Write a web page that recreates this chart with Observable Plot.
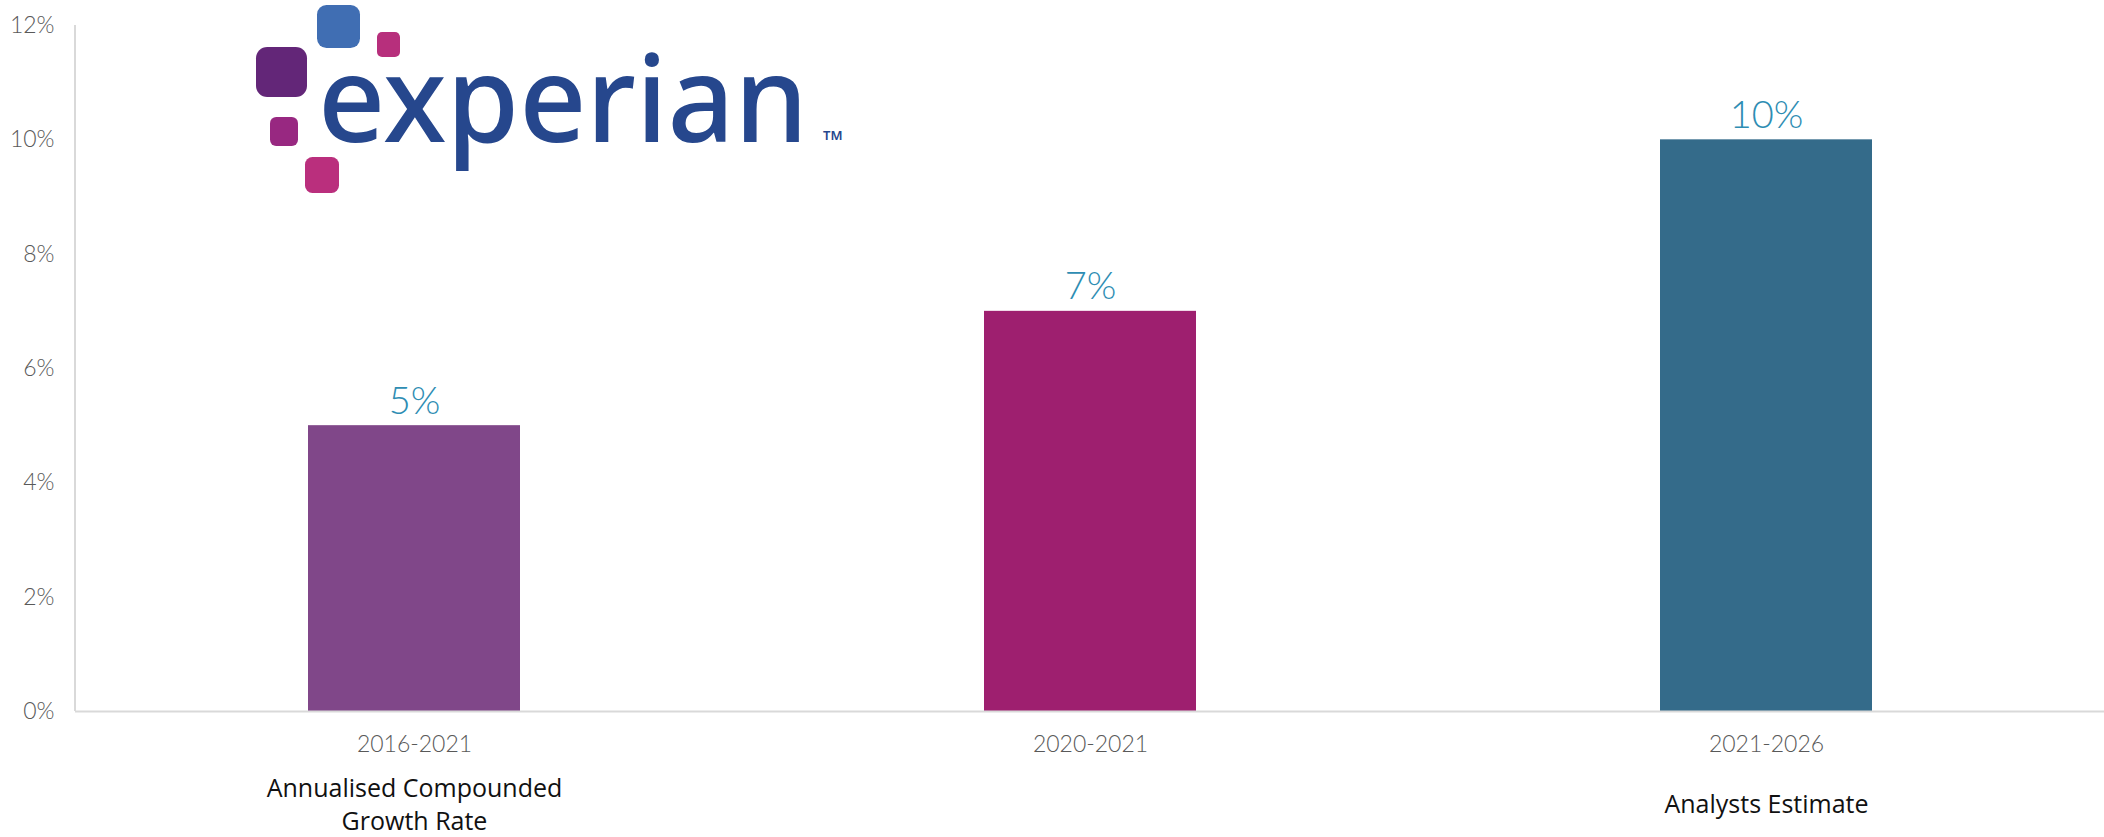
<!DOCTYPE html>
<html>
<head>
<meta charset="utf-8">
<script src="https://cdn.jsdelivr.net/npm/d3@7"></script>
<script src="https://cdn.jsdelivr.net/npm/@observablehq/plot@0.6"></script>
<style>
  html, body { margin: 0; padding: 0; background: #fff; }
  #chart svg { display: block; }
</style>
</head>
<body>
<div id="chart"></div>
<script>
// ---- data ----
const categories = ["2016-2021", "2020-2021", "2021-2026"];
const growth = [5, 7, 10];
const yTicks = [0, 2, 4, 6, 8, 10, 12];
const notes = ["Annualised Compounded\nGrowth Rate", "", "Analysts Estimate"];

const rows = categories.map((c, i) => ({cat: c, value: growth[i], note: notes[i]}));

const W = 2104, H = 837;
const font = "Lato, 'Open Sans', sans-serif";

const plot = Plot.plot({
  width: W,
  height: H,
  marginLeft: 75,
  marginRight: 0,
  marginTop: 25,
  marginBottom: 126,
  style: {fontFamily: font, background: "#fff", overflow: "visible"},
  x: {domain: categories, paddingInner: 0.687, paddingOuter: 0.3435, label: null},
  y: {domain: [0, 12], label: null},
  color: {domain: categories, range: ["#804789", "#9e1f6f", "#346b8a"]},
  marks: [
    Plot.barY(rows, {x: "cat", y: "value", fill: "cat"}),
    Plot.ruleY([0], {stroke: "#d9d9d9", strokeWidth: 2}),
    Plot.axisY({ticks: yTicks, tickSize: 0, tickPadding: 21, tickFormat: d => d + "%",
      fontSize: 23, fontWeight: 300, fill: "#595959", label: null}),
    Plot.axisX({tickSize: 0, tickPadding: 24, fontSize: 23, fontWeight: 300, fill: "#595959",
      label: null}),
    Plot.text(rows, {x: "cat", y: "value", text: d => d.value + "%", lineAnchor: "bottom",
      dy: -12, fontSize: 38, fontWeight: 300, fill: "#2e8db3"}),
    Plot.text(rows, {x: "cat", text: "note", frameAnchor: "bottom", lineAnchor: "middle",
      dy: 91, fontSize: 25, fontFamily: "'Open Sans', sans-serif", fill: "#111", lineHeight: 1.32})
  ]
});

document.getElementById("chart").appendChild(plot);

// y axis line
const svg = d3.select(plot);
const ys = plot.scale("y");
svg.append("line")
  .attr("x1", 75).attr("x2", 75)
  .attr("y1", ys.apply(12)).attr("y2", ys.apply(0))
  .attr("stroke", "#d9d9d9").attr("stroke-width", 2);

// experian logo (decoration)
const logo = svg.append("g").attr("class", "logo").attr("text-anchor", "start");
const squares = [
  {x: 317, y: 5, w: 43, h: 43, c: "#406eb3"},
  {x: 377, y: 32, w: 23, h: 25, c: "#b72f7c"},
  {x: 256, y: 47, w: 51, h: 50, c: "#632678"},
  {x: 270, y: 117, w: 28, h: 29, c: "#982881"},
  {x: 305, y: 157, w: 34, h: 36, c: "#ba2f7d"}
];
logo.selectAll("rect").data(squares).join("rect")
  .attr("x", d => d.x).attr("y", d => d.y)
  .attr("width", d => d.w).attr("height", d => d.h)
  .attr("rx", d => d.w * 0.22).attr("fill", d => d.c);
logo.append("text")
  .attr("x", 318).attr("y", 142)
  .attr("text-anchor", "start")
  .attr("font-family", "'Noto Sans', sans-serif")
  .attr("font-weight", 500)
  .attr("font-size", 120)
  .attr("textLength", 490)
  .attr("lengthAdjust", "spacingAndGlyphs")
  .attr("fill", "#26478d")
  .text("experian");
logo.append("text")
  .attr("x", 823).attr("y", 140)
  .attr("text-anchor", "start")
  .attr("font-family", "'Noto Sans', sans-serif")
  .attr("font-size", 13)
  .attr("font-weight", 600)
  .attr("fill", "#26478d")
  .text("TM");
</script>
</body>
</html>
